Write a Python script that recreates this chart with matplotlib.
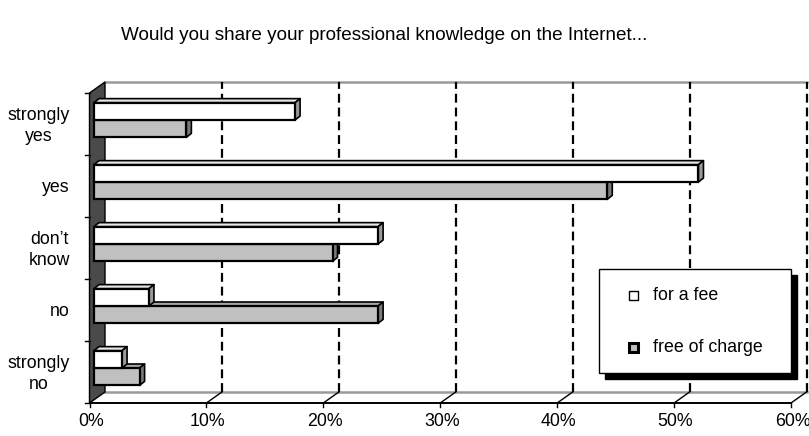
import matplotlib
matplotlib.use("Agg")
import matplotlib.pyplot as plt
from matplotlib.patches import Polygon
from matplotlib.lines import Line2D
from matplotlib.transforms import IdentityTransform

plt.rcParams['font.family'] = ['Liberation Sans', 'DejaVu Sans']

title = "Would you share your professional knowledge on the Internet..."
categories = ["strongly\nyes", "yes", "don\u2019t\nknow", "no", "strongly\nno"]
series_names = ["for a fee", "free of charge"]
for_a_fee = [17.2, 51.7, 24.3, 4.7, 2.4]
free_of_charge = [7.9, 43.9, 20.4, 24.3, 3.9]
xticks = [0, 10, 20, 30, 40, 50, 60]
xticklabels = ["0%", "10%", "20%", "30%", "40%", "50%", "60%"]

W, H, DPI = 809, 436, 100
fig = plt.figure(figsize=(W / DPI, H / DPI), dpi=DPI)
fig.patch.set_facecolor("white")

# front plane of the plot area (pixel geometry)
left_px, right_px = 89.5, 791.0
top_px, bot_px = 93.0, 403.0
ax = fig.add_axes([left_px / W, 1 - bot_px / H, (right_px - left_px) / W, (bot_px - top_px) / H])
ax.set_xlim(0, 60)
ax.set_ylim(len(categories) - 0.5, -0.5)
ax.axis("off")

I = IdentityTransform()
T = ax.transData

DX, DY = 15.5, 11.0        # depth of the 3D box (pixels)
BX0, BY0 = 4.5, 4.0        # bar front offset
BDX, BDY = 5.0, 4.0        # bar depth
FS = 12.8


def disp(x, y, ox=0.0, oy=0.0):
    p = T.transform((x, y))
    return (p[0] + ox, p[1] + oy)


def poly(pts, **kw):
    p = Polygon(pts, closed=True, transform=I, **kw)
    fig.add_artist(p)
    return p


def line(pts, **kw):
    xs, ys = zip(*pts)
    l = Line2D(xs, ys, transform=I, **kw)
    fig.add_artist(l)
    return l


ymin, ymax = -0.5, len(categories) - 0.5

# floor
poly([disp(0, ymax), disp(60, ymax), disp(60, ymax, DX, DY), disp(0, ymax, DX, DY)],
     facecolor="white", edgecolor="none", zorder=1)
line([disp(0, ymax, DX, DY), disp(60, ymax, DX, DY)], color="#9a9a9a", lw=1.8, zorder=2)
# back top border
line([disp(0, ymin, DX, DY), disp(60, ymin, DX, DY)], color="#9a9a9a", lw=1.8, zorder=2)

# gridlines on back plane + diagonals on floor
for t in xticks[1:]:
    line([disp(t, ymax, DX, DY), disp(t, ymin, DX, DY)], color="black", lw=1.6,
         linestyle=(0, (4.0, 2.2)), zorder=2)
    line([disp(t, ymax), disp(t, ymax, DX, DY)], color="black", lw=1.0, zorder=3)

# left wall
poly([disp(0, ymax), disp(0, ymin), disp(0, ymin, DX, DY), disp(0, ymax, DX, DY)],
     facecolor="#4a4a4a", edgecolor="black", lw=1.0, zorder=3)

# front floor line and x ticks
line([disp(0, ymax), disp(60, ymax)], color="black", lw=1.4, zorder=4)
for t, lab in zip(xticks, xticklabels):
    line([disp(t, ymax), disp(t, ymax, 0, -4)], color="black", lw=1.0, zorder=4)
    x, y = disp(t, ymax, 1.5, -10)
    fig.text(x / W, y / H, lab, ha="center", va="top", fontsize=FS)

# y ticks and category labels
for k in range(len(categories) + 1):
    yb = k - 0.5
    line([disp(0, yb, -5, 0), disp(0, yb)], color="black", lw=1.0, zorder=4)
for k, lab in enumerate(categories):
    x, y = disp(0, k)
    fig.text(70 / W, (y - 2) / H, lab, ha="right", va="center", multialignment="center",
             fontsize=FS, linespacing=1.3)

# 3D bars (gray series drawn first so the white bar hides its top face)
bh = 0.28
styles = [
    dict(front="white", top="#e6e6e6", side="#9a9a9a"),
    dict(front="#c0c0c0", top="#a6a6a6", side="#7a7a7a"),
]
series = [for_a_fee, free_of_charge]
for k in range(len(categories)):
    for si in (1, 0):
        st = styles[si]
        v = series[si][k]
        y0 = k - bh if si == 0 else k     # top edge (data, inverted axis)
        y1 = y0 + bh
        a = disp(0, y1, BX0, BY0)      # bottom-left
        b = disp(v, y1, BX0, BY0)      # bottom-right
        c = disp(v, y0, BX0, BY0)      # top-right
        d = disp(0, y0, BX0, BY0)      # top-left
        z = 5 + k * 0.1 + (1 - si) * 0.05
        poly([d, c, (c[0] + BDX, c[1] + BDY), (d[0] + BDX, d[1] + BDY)],
             facecolor=st["top"], edgecolor="black", lw=1.2, joinstyle="round", zorder=z)
        poly([c, b, (b[0] + BDX, b[1] + BDY), (c[0] + BDX, c[1] + BDY)],
             facecolor=st["side"], edgecolor="black", lw=1.2, joinstyle="round", zorder=z)
        poly([a, b, c, d], facecolor=st["front"], edgecolor="black", lw=1.6, zorder=z + 0.01)

# legend with shadow
lx0, lx1, ly0, ly1 = 599, 791, 269, 373   # pixel box (top-down coords)


def fp(x, y):
    return (x, H - y)


poly([fp(lx0 + 6, ly0 + 6), fp(lx1 + 6, ly0 + 6), fp(lx1 + 6, ly1 + 6), fp(lx0 + 6, ly1 + 6)],
     facecolor="black", edgecolor="black", zorder=10)
poly([fp(lx0, ly0), fp(lx1, ly0), fp(lx1, ly1), fp(lx0, ly1)],
     facecolor="white", edgecolor="black", lw=1.0, zorder=11)
leg_y = [295, 347]
for i, name in enumerate(series_names):
    cx, cy = 633, leg_y[i]
    s = 4.5
    poly([fp(cx - s, cy - s), fp(cx + s, cy - s), fp(cx + s, cy + s), fp(cx - s, cy + s)],
         facecolor=styles[i]["front"], edgecolor="black", lw=1.0 if i == 0 else 2.2, zorder=12)
    fig.text(653 / W, 1 - cy / H, name, ha="left", va="center", fontsize=FS, zorder=12)

fig.text(384 / W, 1 - 35 / H, title, ha="center", va="center", fontsize=13.6)

fig.savefig("out.png", dpi=DPI)
